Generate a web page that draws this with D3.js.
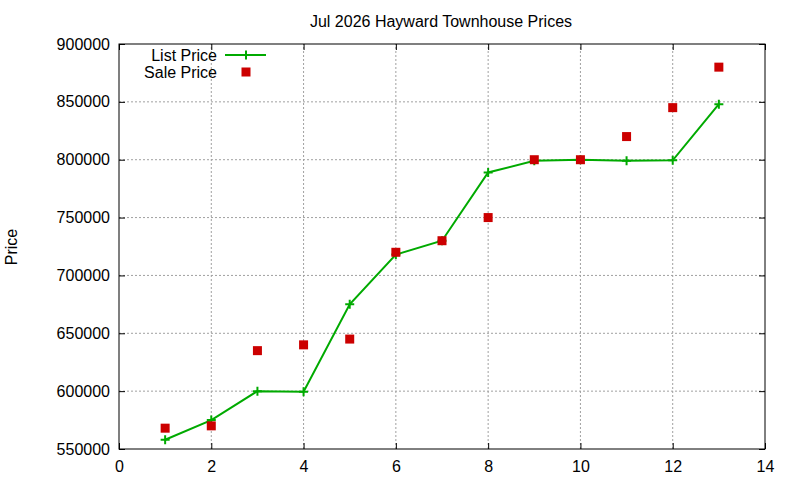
<!DOCTYPE html>
<html>
<head>
<meta charset="utf-8">
<script src="https://cdn.jsdelivr.net/npm/d3@7"></script>
<style>
  body { margin: 0; background: #fff; }
  text { font-family: "Liberation Sans", Arial, sans-serif; }
</style>
</head>
<body>
<div id="chart"></div>
<script>
const months = [1, 2, 3, 4, 5, 6, 7, 8, 9, 10, 11, 12, 13];
const listPrice = [558000, 575000, 600000, 599500, 675000, 718000, 730000, 789000, 799000, 800000, 799000, 799500, 848000];
const salePrice = [568000, 570000, 635000, 640000, 645000, 720000, 730000, 750000, 800000, 800000, 820000, 845000, 880000];
const xTicks = [0, 2, 4, 6, 8, 10, 12, 14];
const yTicks = [550000, 600000, 650000, 700000, 750000, 800000, 850000, 900000];

let width = 800;
let height = 480;
let margin = { top: 44, right: 35, bottom: 31, left: 119 };
let fontSize = 16;

let color = {
  list: '#00aa00',
  sale: '#cc0000',
  grid: '#a0a0a0'
};

const svg = d3.select("#chart").append("svg")
  .attr("width", width)
  .attr("height", height);

let x = d3.scaleLinear()
  .domain([0, 14])
  .range([margin.left, width - margin.right]);

let y = d3.scaleLinear()
  .domain([550000, 900000])
  .range([height - margin.bottom, margin.top]);

// grid
svg.append("g")
  .selectAll("line")
  .data(xTicks.slice(1, -1))
  .enter().append("line")
  .attr("x1", d => x(d)).attr("x2", d => x(d))
  .attr("y1", y(550000)).attr("y2", y(900000))
  .attr("stroke", color.grid)
  .attr("stroke-dasharray", "2,2");

svg.append("g")
  .selectAll("line")
  .data(yTicks.slice(1, -1))
  .enter().append("line")
  .attr("x1", x(0)).attr("x2", x(14))
  .attr("y1", d => y(d)).attr("y2", d => y(d))
  .attr("stroke", color.grid)
  .attr("stroke-dasharray", "2,2");

// axes (ticks inward, mirrored)
let styleAxis = g => {
  g.select(".domain").remove();
  g.selectAll(".tick line").attr("stroke", "#000");
  g.selectAll("text").attr("font-size", fontSize).attr("fill", "#000")
    .style("font-family", '"Liberation Sans", Arial, sans-serif');
};

svg.append("g")
  .attr("transform", `translate(0,${y(550000)})`)
  .call(d3.axisBottom(x).tickValues(xTicks).tickSize(-6).tickPadding(12).tickSizeOuter(0))
  .call(styleAxis);

svg.append("g")
  .attr("transform", `translate(0,${y(900000)})`)
  .call(d3.axisTop(x).tickValues(xTicks).tickSize(-6).tickFormat("").tickSizeOuter(0))
  .call(styleAxis);

svg.append("g")
  .attr("transform", `translate(${x(0)},0)`)
  .call(d3.axisLeft(y).tickValues(yTicks).tickSize(-6).tickPadding(9).tickFormat(d3.format("d")).tickSizeOuter(0))
  .call(styleAxis);

svg.append("g")
  .attr("transform", `translate(${x(14)},0)`)
  .call(d3.axisRight(y).tickValues(yTicks).tickSize(-6).tickFormat("").tickSizeOuter(0))
  .call(styleAxis);

// border
svg.append("rect")
  .attr("x", x(0)).attr("y", y(900000))
  .attr("width", x(14) - x(0)).attr("height", y(550000) - y(900000))
  .attr("fill", "none").attr("stroke", "#000");

// list price line
const listData = months.map((m, i) => ({ m, v: listPrice[i] }));
const saleData = months.map((m, i) => ({ m, v: salePrice[i] }));

svg.append("path")
  .datum(listData)
  .attr("fill", "none")
  .attr("stroke", color.list)
  .attr("stroke-width", 2)
  .attr("d", d3.line().x(d => x(d.m)).y(d => y(d.v)));

let plus = (g, cx, cy) => {
  g.append("path")
    .attr("d", `M${cx - 4.5},${cy}H${cx + 4.5}M${cx},${cy - 4.5}V${cy + 4.5}`)
    .attr("stroke", color.list)
    .attr("stroke-width", 2);
};

const pts = svg.append("g");
listData.forEach(d => plus(pts, x(d.m), y(d.v)));

svg.append("g")
  .selectAll("rect")
  .data(saleData)
  .enter().append("rect")
  .attr("x", d => x(d.m) - 4.5)
  .attr("y", d => y(d.v) - 4.5)
  .attr("width", 9)
  .attr("height", 9)
  .attr("fill", color.sale);

// title
svg.append("text")
  .attr("x", 441).attr("y", 27)
  .attr("text-anchor", "middle")
  .attr("font-size", fontSize)
  .text("Jul 2026 Hayward Townhouse Prices");

// y label
svg.append("text")
  .attr("transform", "translate(17,247) rotate(-90)")
  .attr("text-anchor", "middle")
  .attr("font-size", fontSize)
  .text("Price");

// legend
const legend = svg.append("g");
legend.append("text")
  .attr("x", 217).attr("y", 61)
  .attr("text-anchor", "end")
  .attr("font-size", fontSize)
  .text("List Price");
legend.append("line")
  .attr("x1", 225).attr("x2", 266)
  .attr("y1", 55).attr("y2", 55)
  .attr("stroke", color.list)
  .attr("stroke-width", 2);
plus(legend, 246, 55);

legend.append("text")
  .attr("x", 217).attr("y", 78)
  .attr("text-anchor", "end")
  .attr("font-size", fontSize)
  .text("Sale Price");
legend.append("rect")
  .attr("x", 241.5).attr("y", 67.5)
  .attr("width", 9).attr("height", 9)
  .attr("fill", color.sale);
</script>
</body>
</html>
